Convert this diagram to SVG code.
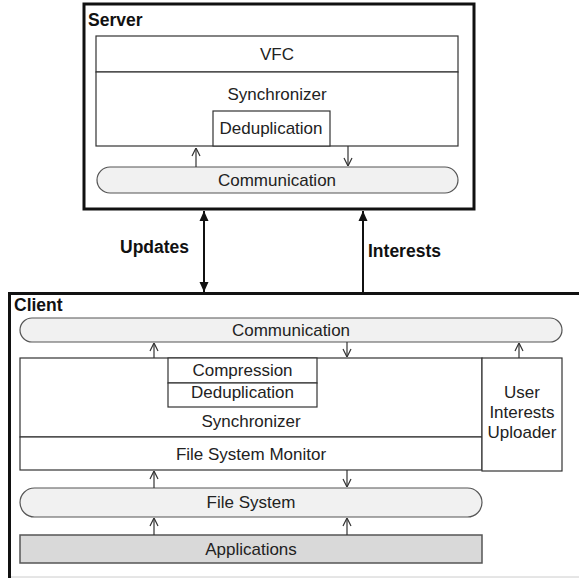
<svg xmlns="http://www.w3.org/2000/svg" width="579" height="578" viewBox="0 0 579 578">
<defs>
<style>
.t{font-family:"Liberation Sans",Arial,sans-serif;font-size:17px;fill:#222;text-anchor:middle}
.b{font-family:"Liberation Sans",Arial,sans-serif;font-size:17.5px;font-weight:bold;fill:#111}
.box{fill:#fff;stroke:#333;stroke-width:1.2}
.pill{fill:#f1f1f1;stroke:#555;stroke-width:1.2}
.app{fill:#d9d9d9;stroke:#555;stroke-width:1.5}
.frame{fill:none;stroke:#111;stroke-width:3}
.sa{stroke:#333;stroke-width:1.2;fill:none}
.ba{stroke:#111;stroke-width:2;fill:none}
</style>
<marker id="oa" viewBox="0 0 10 10" refX="10" refY="5" markerWidth="10" markerHeight="10" markerUnits="userSpaceOnUse" orient="auto">
<path d="M2,1 L10,5 L2,9" fill="none" stroke="#333" stroke-width="1.2"/>
</marker>
<marker id="fa" viewBox="0 0 10 10" refX="10" refY="5" markerWidth="10" markerHeight="10" markerUnits="userSpaceOnUse" orient="auto-start-reverse">
<path d="M0,0.5 L10,5 L0,9.5 Z" fill="#111"/>
</marker>
</defs>

<g id="server">
<rect class="frame" x="84" y="4" width="390" height="205"/>
<text class="b" x="88" y="26">Server</text>
</g>
<g id="server-vfc">
<rect class="box" x="96" y="36" width="362" height="36"/>
<text class="t" x="277" y="60">VFC</text>
</g>
<g id="server-synchronizer">
<rect class="box" x="96" y="72" width="362" height="74"/>
<text class="t" x="277" y="100">Synchronizer</text>
</g>
<g id="server-dedup">
<rect class="box" x="213" y="111" width="117" height="35"/>
<text class="t" x="271" y="134">Deduplication</text>
</g>
<g id="server-communication">
<rect class="pill" x="97" y="167" width="361" height="26" rx="13"/>
<text class="t" x="277" y="186">Communication</text>
</g>

<g id="client">
<path d="M9.5,578 L9.5,293.5 L590,293.5" class="frame"/>
<line x1="11" y1="577" x2="579" y2="577" stroke="#ccc" stroke-width="1"/>
<text class="b" x="14" y="311">Client</text>
</g>
<g id="client-communication">
<rect class="pill" x="20" y="318" width="542" height="24" rx="12"/>
<text class="t" x="291" y="336">Communication</text>
</g>
<g id="client-synchronizer">
<rect class="box" x="20" y="358" width="462" height="79"/>
<text class="t" x="251" y="427">Synchronizer</text>
</g>
<g id="client-compression">
<rect class="box" x="168" y="358" width="149" height="25"/>
<text class="t" x="242.5" y="376">Compression</text>
</g>
<g id="client-dedup">
<rect class="box" x="168" y="383" width="149" height="24"/>
<text class="t" x="242.5" y="398">Deduplication</text>
</g>
<g id="client-fsm">
<rect class="box" x="20" y="437" width="462" height="33"/>
<text class="t" x="251" y="460">File System Monitor</text>
</g>
<g id="client-uploader">
<rect class="box" x="482" y="358" width="80" height="113"/>
<text class="t" x="522" y="398">User</text>
<text class="t" x="522" y="418">Interests</text>
<text class="t" x="522" y="438">Uploader</text>
</g>
<g id="client-filesystem">
<rect class="pill" x="20" y="488" width="462" height="29" rx="14.5"/>
<text class="t" x="251" y="508">File System</text>
</g>
<g id="client-applications">
<rect class="app" x="20" y="535" width="462" height="28"/>
<text class="t" x="251" y="555">Applications</text>
</g>

<g id="connectors">
<line class="sa" x1="196" y1="167" x2="196" y2="148" marker-end="url(#oa)"/>
<line class="sa" x1="348" y1="146" x2="348" y2="166" marker-end="url(#oa)"/>
<line class="ba" x1="204" y1="211" x2="204" y2="292" marker-start="url(#fa)" marker-end="url(#fa)"/>
<text class="b" x="120" y="253">Updates</text>
<line class="ba" x1="363" y1="292" x2="363" y2="211" marker-end="url(#fa)"/>
<text class="b" x="368" y="257">Interests</text>
<line class="sa" x1="154" y1="358" x2="154" y2="343" marker-end="url(#oa)"/>
<line class="sa" x1="347" y1="342" x2="347" y2="357" marker-end="url(#oa)"/>
<line class="sa" x1="519" y1="358" x2="519" y2="343" marker-end="url(#oa)"/>
<line class="sa" x1="154" y1="488" x2="154" y2="471" marker-end="url(#oa)"/>
<line class="sa" x1="347" y1="470" x2="347" y2="487" marker-end="url(#oa)"/>
<line class="sa" x1="154" y1="535" x2="154" y2="518" marker-end="url(#oa)"/>
<line class="sa" x1="347" y1="535" x2="347" y2="518" marker-end="url(#oa)"/>
</g>
</svg>
